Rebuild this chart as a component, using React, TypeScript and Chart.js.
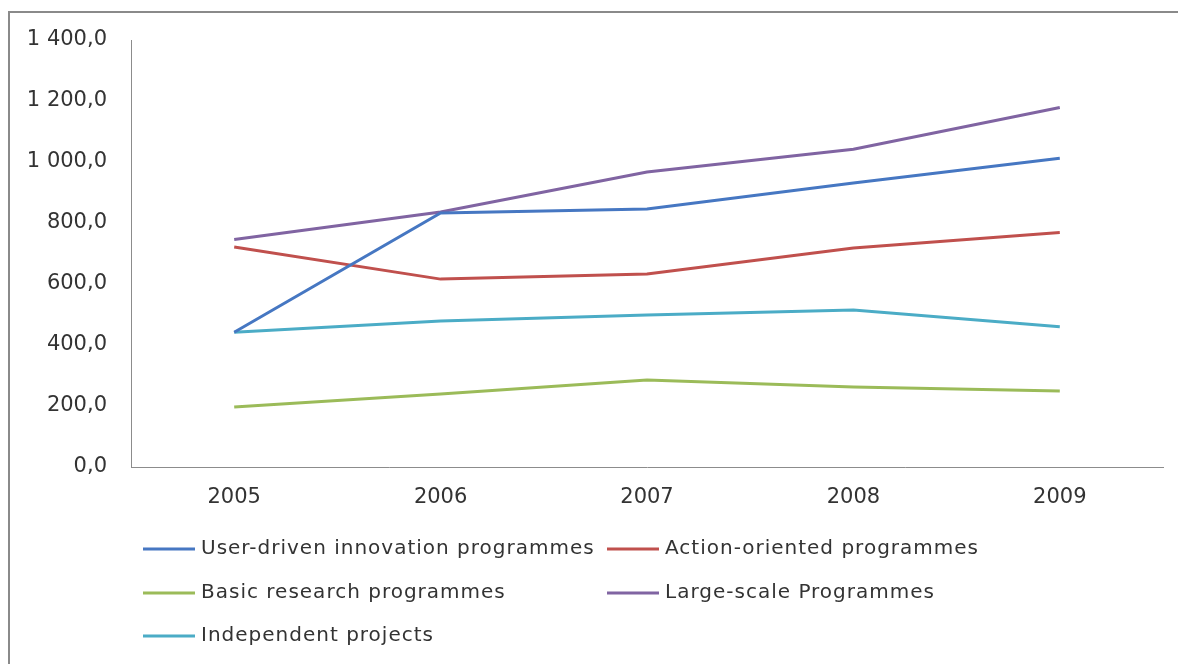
import React, { useEffect, useRef } from "react";
import { Chart, registerables } from "chart.js";

Chart.register(...registerables);

const years = ["2005", "2006", "2007", "2008", "2009"];
const userDriven = [442, 833, 846, 931, 1012];
const actionOriented = [721, 616, 633, 718, 769];
const basicResearch = [197, 239, 285, 262, 249];
const largeScale = [746, 836, 967, 1042, 1179];
const independent = [442, 479, 498, 515, 460];

const seriesNames = [
  "User-driven innovation programmes",
  "Action-oriented programmes",
  "Basic research programmes",
  "Large-scale Programmes",
  "Independent projects",
];
const seriesColors = ["#4677C2", "#C0504D", "#9BBB59", "#8064A2", "#4BACC6"];

const FONT = "'DejaVu Sans', 'Open Sans', sans-serif";
const TEXT = "#333333";

function fmt(v: number): string {
  const s = Math.round(v).toString();
  const withSpace = s.replace(/\B(?=(\d{3})+(?!\d))/g, " ");
  return withSpace + ",0";
}

const legendPlugin = {
  id: "gridLegend",
  afterDraw(chart: any) {
    const ctx = chart.ctx;
    const cols = [143, 607];
    const rows = [549, 593, 636];
    ctx.save();
    ctx.font = `20px ${FONT}`;
    try {
      (ctx as any).letterSpacing = "1px";
    } catch (e) {}
    ctx.textBaseline = "middle";
    ctx.textAlign = "left";
    chart.data.datasets.forEach((ds: any, i: number) => {
      const x = cols[i % 2];
      const y = rows[Math.floor(i / 2)];
      ctx.strokeStyle = ds.borderColor;
      ctx.lineWidth = 3;
      ctx.beginPath();
      ctx.moveTo(x, y);
      ctx.lineTo(x + 52, y);
      ctx.stroke();
      ctx.fillStyle = TEXT;
      ctx.fillText(ds.label, x + 58, y);
    });
    ctx.restore();
  },
};

export default function App() {
  const ref = useRef<HTMLCanvasElement | null>(null);

  useEffect(() => {
    if (!ref.current) return;
    const values = [userDriven, actionOriented, basicResearch, largeScale, independent];
    const chart = new Chart(ref.current, {
      type: "line",
      data: {
        labels: years,
        datasets: values.map((d, i) => ({
          label: seriesNames[i],
          data: d,
          borderColor: seriesColors[i],
          backgroundColor: seriesColors[i],
          borderWidth: 3,
          pointRadius: 0,
          tension: 0,
          fill: false,
        })),
      },
      options: {
        animation: false,
        responsive: false,
        maintainAspectRatio: false,
        layout: { padding: { left: 0, top: 40, right: 15, bottom: 137 } },
        plugins: {
          legend: { display: false },
          tooltip: { enabled: false },
        },
        scales: {
          x: {
            offset: true,
            grid: { display: false, drawTicks: false },
            border: { display: true, color: "#8c8c8c", width: 1 },
            ticks: {
              color: TEXT,
              font: { family: FONT, size: 21 },
              padding: 18,
              maxRotation: 0,
            },
            afterFit(scale: any) {
              scale.height = 60;
            },
          },
          y: {
            min: 0,
            max: 1400,
            grid: { display: false, drawTicks: false },
            border: { display: true, color: "#8c8c8c", width: 1 },
            ticks: {
              stepSize: 200,
              color: TEXT,
              font: { family: FONT, size: 21 },
              padding: 24,
              callback: (v: any) => fmt(Number(v)),
            },
            afterFit(scale: any) {
              scale.width = 131;
            },
          },
        },
      },
      plugins: [legendPlugin],
    });
    return () => chart.destroy();
  }, []);

  return (
    <div style={{ position: "fixed", left: 0, top: 0, width: 1178, height: 664, background: "#fff", overflow: "hidden" }}>
      <div
        style={{
          position: "absolute",
          left: 8,
          top: 11,
          width: 1300,
          height: 800,
          borderLeft: "2px solid #8a8a8a",
          borderTop: "2px solid #8a8a8a",
        }}
      />
      <canvas ref={ref} width={1178} height={664} style={{ position: "absolute", left: 0, top: 0 }} />
    </div>
  );
}
